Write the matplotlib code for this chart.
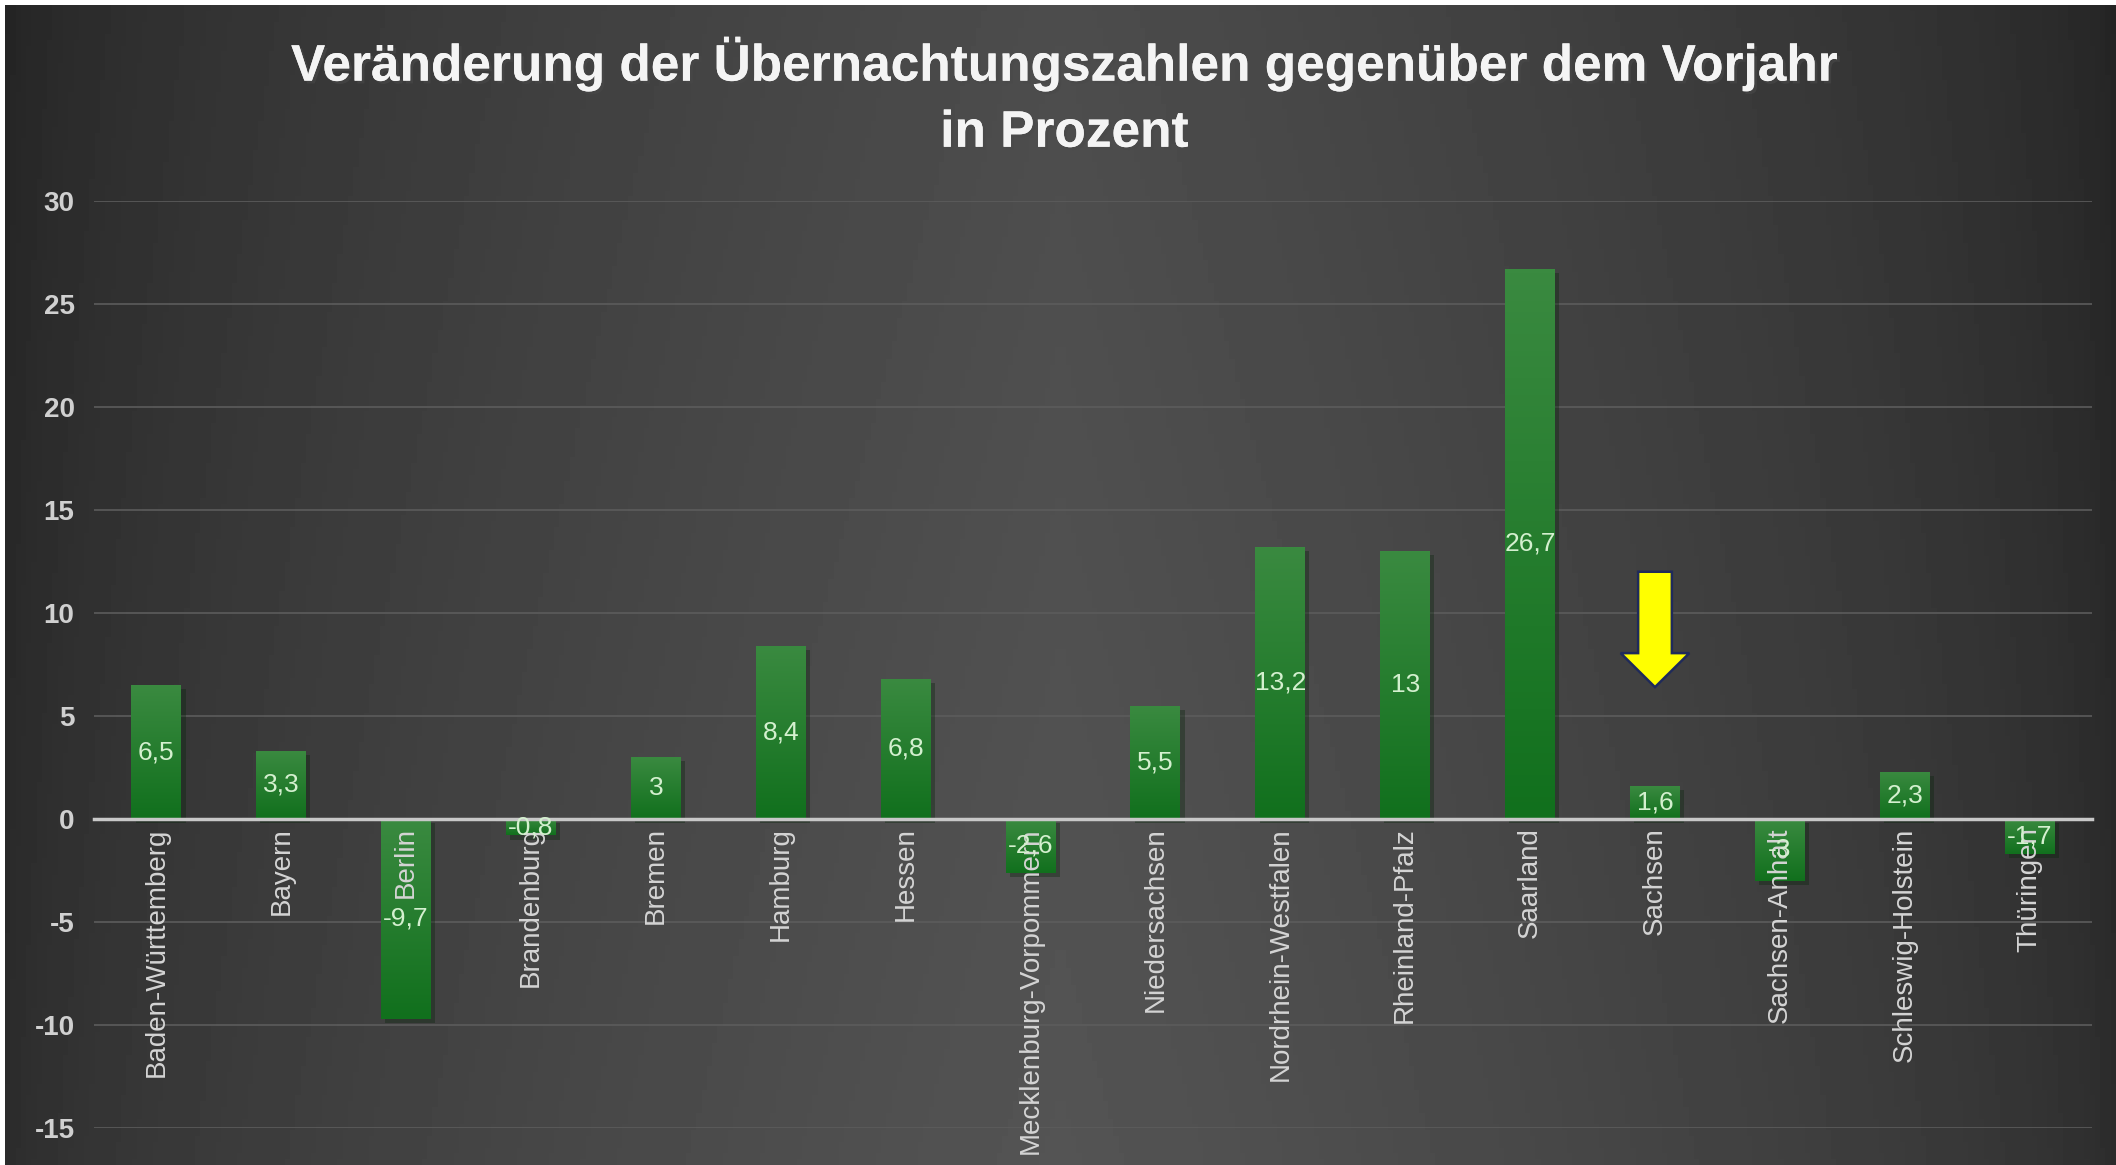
import numpy as np
import matplotlib
matplotlib.use("Agg")
import matplotlib.pyplot as plt
import matplotlib.patheffects as pe
from matplotlib import font_manager

# -------------------------- Daten --------------------------
laender = ["Baden-Württemberg", "Bayern", "Berlin", "Brandenburg", "Bremen",
           "Hamburg", "Hessen", "Mecklenburg-Vorpommern", "Niedersachsen",
           "Nordrhein-Westfalen", "Rheinland-Pfalz", "Saarland", "Sachsen",
           "Sachsen-Anhalt", "Schleswig-Holstein", "Thüringen"]
veraenderung = [6.5, 3.3, -9.7, -0.8, 3, 8.4, 6.8, -2.6, 5.5, 13.2, 13, 26.7,
                1.6, -3, 2.3, -1.7]
y_ticks = [-15, -10, -5, 0, 5, 10, 15, 20, 25, 30]
titel = "Veränderung der Übernachtungszahlen gegenüber dem Vorjahr\nin Prozent"
markiert = "Sachsen"

# -------------------------- Schriften --------------------------
namen = {f.name for f in font_manager.fontManager.ttflist}
schmal = "Liberation Sans Narrow" if "Liberation Sans Narrow" in namen else "Liberation Sans"
plt.rcParams["font.family"] = ["Liberation Sans", "DejaVu Sans"]

fig = plt.figure(figsize=(21.16, 11.65), dpi=100)

# Hintergrund mit Verlauf
bg = fig.add_axes([0.0024, 0, 0.9976, 0.9957], zorder=-10)
xx = np.linspace(0, 1, 400)
yy = np.linspace(0, 1, 200)
X, Y = np.meshgrid(xx, yy)
hell = (1 - np.abs(X - 0.5) * 2) ** 0.6
werte = 0.14 + 0.16 * hell + 0.03 * Y
bg.imshow(werte, cmap="gray", vmin=0, vmax=1, aspect="auto", extent=[0, 1, 0, 1])
bg.axis("off")
fig.patch.set_facecolor("white")

ax = fig.add_axes([0.0444, 0.0318, 0.9443, 0.7957])
ax.patch.set_alpha(0)

x = np.arange(len(laender))
bars = ax.bar(x, veraenderung, width=0.4, color="#1a7a26", zorder=1,
              path_effects=[pe.SimplePatchShadow(offset=(3, -3), alpha=0.35), pe.Normal()])

# Farbverlauf in den Balken
verlauf = np.linspace(0, 1, 100).reshape(-1, 1)
gruen = matplotlib.colors.LinearSegmentedColormap.from_list("g", ["#3a8a40", "#11701d"])
for b in bars:
    x0, y0 = b.get_x(), b.get_y()
    w, h = b.get_width(), b.get_height()
    top, bottom = max(y0, y0 + h), min(y0, y0 + h)
    im = ax.imshow(verlauf, cmap=gruen, aspect="auto", zorder=1.1,
                   extent=[x0, x0 + w, bottom, top], origin="upper")
    im.set_clip_path(b)

# Beschriftungen in den Balken
beschriftung = [f"{v:g}".replace(".", ",") for v in veraenderung]
ax.bar_label(bars, labels=beschriftung, label_type="center", color="#d4f0cf",
             fontsize=19, family=[schmal, "DejaVu Sans"], zorder=5)

# Gitterlinien
for t in y_ticks:
    if t != 0:
        ax.axhline(t, color="#5c5c5c", lw=1.2, zorder=0.5)

ax.set_xlim(-0.5, len(laender) - 0.5)
ax.set_ylim(-15, 30)
ax.set_yticks(y_ticks)
ax.set_yticklabels([str(t) for t in y_ticks], fontsize=20, fontweight="bold", color="#d0d0d0")
ax.tick_params(axis="y", length=0, pad=14)

ax.spines["bottom"].set_position(("data", 0))
ax.spines["bottom"].set_color("#c8c8c8")
ax.spines["bottom"].set_linewidth(2.5)
ax.spines["bottom"].set_zorder(3)
for s in ["top", "right", "left"]:
    ax.spines[s].set_visible(False)

ax.set_xticks(x)
ax.set_xticklabels(laender, rotation=90, fontsize=20, color="#d4d4d4", va="top")
ax.tick_params(axis="x", length=0, pad=6)

# Pfeil über Sachsen
i = laender.index(markiert)
ax.arrow(x[i], 12.0, 0, -5.6, width=0.27, head_width=0.55, head_length=1.65,
         length_includes_head=True, facecolor="#ffff00", edgecolor="#1f2a5a",
         linewidth=1.8, zorder=6)

fig.text(0.503, 0.917, titel, ha="center", va="center", color="#f4f4f4",
         fontsize=37, fontweight="bold", family=[schmal, "DejaVu Sans"],
         linespacing=1.45,
         path_effects=[pe.withSimplePatchShadow(offset=(2, -2), alpha=0.6), pe.Normal()])

fig.savefig("out.png", dpi=100)
